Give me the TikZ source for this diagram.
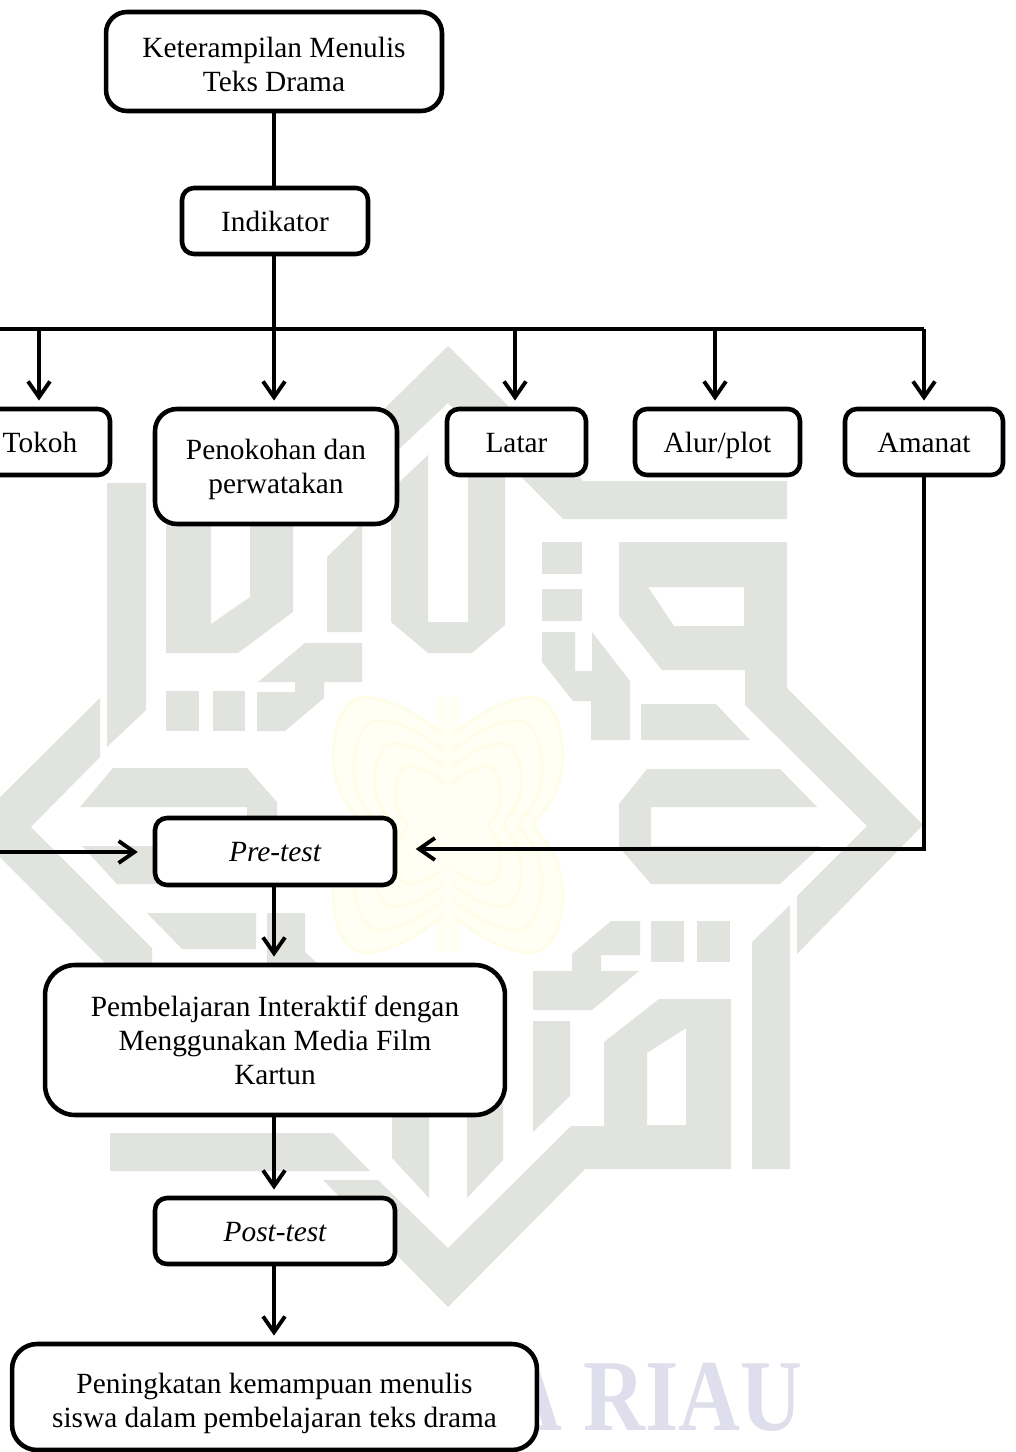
\documentclass[tikz,border=0pt]{standalone}
\usepackage{fontspec}
\setmainfont{Liberation Serif}
\usetikzlibrary{arrows.meta}
\definecolor{logogray}{RGB}{225, 227, 222}
\definecolor{logoyellow}{RGB}{255, 255, 243}
\definecolor{logoline}{RGB}{254, 254, 232}
\definecolor{riaublue}{RGB}{222, 222, 236}
\begin{document}
\begin{tikzpicture}[x=0.02cm, y=-0.02cm,
  stp/.style={draw, fill=white, line width=2.6pt, rounded corners=0.24cm, align=center,
              font=\fontsize{16.7pt}{19.3pt}\selectfont, inner sep=0pt},
  one/.style={stp, text height=14.4pt, text depth=3pt},
  wm/.style={fill=logogray, draw=none},
  lnk/.style={line width=2.2pt},
  arr/.style={lnk, -{Straight Barb[length=9pt, width=12.5pt, line width=2.2pt]}},
]
\path[use as bounding box, clip] (0,0) rectangle (1016,1452);

% Logo behind the chart
\fill[wm] (107,483) -- (146,483) -- (146,710) -- (107,747) -- cycle;
\fill[wm, even odd rule] (166,500) -- (293,500) -- (293,612) -- (238,653) -- (166,653) -- cycle
  (211,500) -- (250,500) -- (250,597) -- (211,624) -- cycle;
\fill[wm] (327,557) -- (362,523) -- (362,632) -- (327,632) -- cycle;
\fill[wm] (391,490) -- (428,455) -- (428,622) -- (468,622) -- (468,470) -- (505,470)
  -- (505,625) -- (472,653) -- (428,653) -- (391,622) -- cycle;
\fill[wm] (380,413) -- (448,346) -- (583,481) -- (787,481) -- (787,519) -- (563,519)
  -- (448,403) -- (396,452) -- cycle;
\fill[wm] (305,643) -- (362,643) -- (362,682) -- (324,682) -- (324,698) -- (285,731) -- (257,731)
  -- (257,692) -- (295,692) -- (295,682) -- (258,682) -- cycle;
\fill[wm] (166,691) -- (199,691) -- (199,731) -- (166,731) -- cycle;
\fill[wm] (213,691) -- (245,691) -- (245,731) -- (213,731) -- cycle;
\fill[wm] (542,542) -- (582,542) -- (582,574) -- (542,574) -- cycle;
\fill[wm] (542,589) -- (582,589) -- (582,621) -- (542,621) -- cycle;
\fill[wm] (542,632) -- (575,632) -- (575,671) -- (592,671) -- (592,632) -- (630,681)
  -- (630,740) -- (591,740) -- (591,701) -- (573,701) -- (542,662) -- cycle;
\fill[wm, even odd rule] (619,542) -- (787,542) -- (787,688) -- (923,825) -- (797,954) -- (797,896)
  -- (867,826) -- (745,705) -- (745,670) -- (662,670) -- (619,616) -- cycle
  (648,587) -- (744,587) -- (744,626) -- (674,626) -- cycle;
\fill[wm] (641,704) -- (716,704) -- (750,740) -- (641,740) -- cycle;
\fill[wm] (647,769) -- (780,769) -- (817,807) -- (651,807) -- (651,846) -- (821,846)
  -- (780,884) -- (651,884) -- (619,847) -- (619,804) -- cycle;
\fill[wm] (752,942) -- (790,905) -- (790,1169) -- (752,1169) -- cycle;
\fill[wm] (697,921) -- (730,921) -- (730,962) -- (697,962) -- cycle;
\fill[wm] (651,921) -- (684,921) -- (684,962) -- (651,962) -- cycle;
\fill[wm] (611,921) -- (640,921) -- (640,955) -- (601,955) -- (601,971) -- (639,971)
  -- (592,1010) -- (533,1010) -- (533,971) -- (572,971) -- (572,954) -- cycle;
\fill[wm] (533,1021) -- (570,1021) -- (570,1096) -- (533,1132) -- cycle;
\fill[wm, even odd rule] (659,999) -- (731,999) -- (731,1169) -- (585,1169) -- (448,1307) -- (323,1180)
  -- (378,1180) -- (448,1248) -- (571,1126) -- (604,1126) -- (604,1042) -- cycle
  (647,1053) -- (686,1028) -- (686,1125) -- (647,1125) -- cycle;
\fill[wm] (392,1100) -- (429,1100) -- (429,1198) -- (392,1158) -- cycle;
\fill[wm] (467,1100) -- (503,1100) -- (503,1160) -- (467,1198) -- cycle;
\fill[wm] (110,1133) -- (333,1133) -- (370,1171) -- (110,1171) -- cycle;
\fill[wm] (100,698) -- (100,757) -- (31,827) -- (152,948) -- (152,970) -- (112,970) -- (-30,827) -- cycle;
\fill[wm] (80,807) -- (113,768) -- (247,768) -- (277,802) -- (277,830) -- (247,830) -- (247,807) -- cycle;
\fill[wm] (82,846) -- (200,846) -- (200,884) -- (117,884) -- cycle;
\fill[wm] (147,913) -- (256,913) -- (256,949) -- (182,949) -- cycle;
\fill[wm] (267,913) -- (305,913) -- (305,952) -- (325,970) -- (267,970) -- cycle;

% Butterfly
\fill[logoyellow] (436,697) rectangle (460,953);
\foreach \sx/\sy in {1/1, -1/1, 1/-1, -1/-1} {
  \begin{scope}[shift={(448,825)}, xscale=\sx, yscale=\sy]
    \fill[logoyellow] (0,-90) .. controls (40,-120) and (70,-130) .. (90,-127)
      .. controls (118,-115) and (118,-60) .. (110,-40)
      .. controls (105,-20) and (90,-10) .. (85,0) -- (0,0) -- cycle;
    \foreach \s in {1, 0.82, 0.64, 0.46} {
      \draw[logoline, line width=1.6pt, scale=\s] (5,-90) .. controls (40,-120) and (70,-130) .. (90,-127)
        .. controls (118,-115) and (118,-60) .. (110,-40)
        .. controls (105,-20) and (90,-10) .. (85,0);
    }
  \end{scope}
}

\node[anchor=base east, riaublue, font=\bfseries\fontsize{58pt}{58pt}\selectfont, inner sep=0pt] (riau) at (803,1430) {\scalebox{0.84}[1]{A RIAU}};

% Boxes
\node[stp, minimum width=6.72cm, minimum height=1.98cm, rounded corners=0.42cm] (judul) at (274,61.5) {\rule{0pt}{14.8pt}Keterampilan Menulis\\Teks Drama};
\node[one, minimum width=3.72cm, minimum height=1.32cm] (indikator) at (275,221) {Indikator};

\node[one, minimum width=2.8cm, minimum height=1.32cm] (tokoh) at (40,442) {Tokoh};
\node[stp, minimum width=4.84cm, minimum height=2.3cm, rounded corners=0.44cm] (penokohan) at (276,466.5) {\rule{0pt}{14.8pt}Penokohan dan\\perwatakan};
\node[one, minimum width=2.78cm, minimum height=1.32cm] (latar) at (516.5,442) {Latar};
\node[one, minimum width=3.3cm, minimum height=1.32cm] (alur) at (717.5,442) {Alur/plot};
\node[one, minimum width=3.16cm, minimum height=1.32cm] (amanat) at (924,442) {Amanat};

\node[one, minimum width=4.8cm, minimum height=1.34cm] (pre) at (275,851.5) {\itshape Pre-test};
\node[stp, minimum width=9.2cm, minimum height=3cm, rounded corners=0.6cm] (belajar) at (275,1040) {\rule{0pt}{12.5pt}Pembelajaran Interaktif dengan\\Menggunakan Media Film\\Kartun};
\node[one, minimum width=4.8cm, minimum height=1.32cm] (post) at (275,1231) {\itshape Post-test};
\node[stp, minimum width=10.5cm, minimum height=2.12cm, rounded corners=0.5cm] (hasil) at (274.5,1397) {\rule{0pt}{19.4pt}Peningkatan kemampuan menulis\\siswa dalam pembelajaran teks drama};

% Bus
\coordinate (busleft) at (0,329);
\coordinate (busright) at (924,329);
\coordinate (bustokoh) at (39,329);
\coordinate (busmid) at (274,329);
\coordinate (buslatar) at (515,329);
\coordinate (busalur) at (715,329);
\coordinate (preleft) at (0,852);
\coordinate (precorner) at (924,849);

\draw[lnk] (judul.south -| busmid) -- (indikator.north -| busmid);
\draw[lnk] (indikator.south -| busmid) -- (busmid);
\draw[lnk] (busleft) -- (busright);

\draw[arr, shorten >=3.5pt] (bustokoh) -- (bustokoh |- tokoh.north);
\draw[arr, shorten >=3.5pt] (busmid) -- (busmid |- penokohan.north);
\draw[arr, shorten >=3.5pt] (buslatar) -- (buslatar |- latar.north);
\draw[arr, shorten >=3.5pt] (busalur) -- (busalur |- alur.north);
\draw[arr, shorten >=3.5pt] (busright) -- (amanat.north);

\draw[arr, shorten >=8.5pt] (preleft) -- (preleft -| pre.west);
\draw[arr, shorten >=10.5pt] (amanat.south) -- (precorner) -- (precorner -| pre.east);

\draw[arr, shorten >=3.5pt] (pre.south -| busmid) -- (belajar.north -| busmid);
\draw[arr, shorten >=3.5pt] (belajar.south -| busmid) -- (post.north -| busmid);
\draw[arr, shorten >=3.5pt] (post.south -| busmid) -- (hasil.north -| busmid);
\end{tikzpicture}
\end{document}
